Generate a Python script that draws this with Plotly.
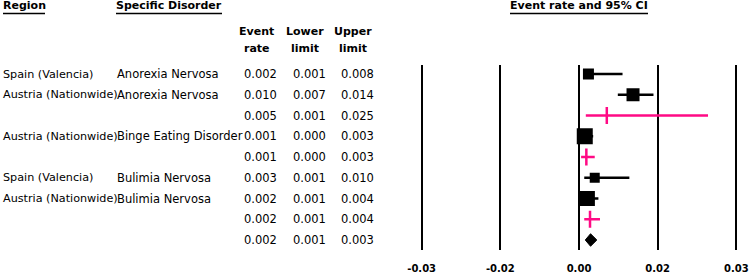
import plotly.graph_objects as go

# ---------------- data ----------------
regions = ["Spain (Valencia)", "Austria (Nationwide)", "", "Austria (Nationwide)", "",
           "Spain (Valencia)", "Austria (Nationwide)", "", ""]
disorders = ["Anorexia Nervosa", "Anorexia Nervosa", "", "Binge Eating Disorder", "",
             "Bulimia Nervosa", "Bulimia Nervosa", "", ""]
row_kind = ["study", "study", "subtotal", "study", "subtotal", "study", "study", "subtotal", "overall"]
event_rate = [0.0018, 0.0103, 0.0053, 0.0011, 0.0014, 0.0030, 0.0016, 0.0021, 0.0022]
lower_limit = [0.0010, 0.0074, 0.0013, 0.0003, 0.0004, 0.0010, 0.0008, 0.0010, 0.0012]
upper_limit = [0.0083, 0.0142, 0.0246, 0.0027, 0.0030, 0.0096, 0.0037, 0.0040, 0.0034]
rel_weight = [11, 13, 0, 16, 0, 10, 15, 0, 0]

tick_vals = [-0.03, -0.015, 0.0, 0.015, 0.03]
tick_text = ["-0.03", "-0.02", "0.00", "0.02", "0.03"]

# ---------------- style ----------------
W, H = 749, 274
PINK = "#FF0A85"
FONT = "DejaVu Sans"
BODY = 11.5

def px(xp):
    return xp / W

def py(yp):
    return 1 - yp / H

rows = list(range(len(event_rate)))
fig = go.Figure()

# CI lines
for i in rows:
    if row_kind[i] == "overall":
        continue
    col = PINK if row_kind[i] == "subtotal" else "black"
    fig.add_trace(go.Scatter(x=[lower_limit[i], upper_limit[i]], y=[i, i], mode="lines",
                             line=dict(color=col, width=2.5), hoverinfo="skip", showlegend=False))

# study squares
st = [i for i in rows if row_kind[i] == "study"]
fig.add_trace(go.Scatter(x=[event_rate[i] for i in st], y=st, mode="markers",
                         marker=dict(symbol="square", color="black", opacity=1,
                                     size=[rel_weight[i] for i in st],
                                     line=dict(width=0)),
                         showlegend=False))
# subtotal ticks
sb = [i for i in rows if row_kind[i] == "subtotal"]
fig.add_trace(go.Scatter(x=[event_rate[i] for i in sb], y=sb, mode="markers",
                         marker=dict(symbol="line-ns", size=12, opacity=1,
                                     line=dict(color=PINK, width=2.5)),
                         showlegend=False))
# overall diamond
for i in rows:
    if row_kind[i] == "overall":
        h = 0.3
        fig.add_trace(go.Scatter(x=[lower_limit[i], event_rate[i], upper_limit[i], event_rate[i], lower_limit[i]],
                                 y=[i, i - h, i, i + h, i], mode="lines", fill="toself",
                                 fillcolor="black", line=dict(color="black", width=1),
                                 hoverinfo="skip", showlegend=False))

ann = []
def add_text(x, y, text, xanchor="left", yref="paper", bold=False, size=BODY):
    ann.append(dict(x=x, y=y, xref="paper", yref=yref, text=text, showarrow=False,
                    xanchor=xanchor, yanchor="middle", borderpad=0,
                    font=dict(family=FONT, size=size, color="black",
                              weight="bold" if bold else "normal")))

# table body
for i in rows:
    if regions[i]:
        add_text(px(1.5), i, regions[i], yref="y", size=11.2)
    if disorders[i]:
        add_text(px(116), i, disorders[i], yref="y")
    add_text(px(260), i, f"{event_rate[i]:.3f}", xanchor="center", yref="y")
    add_text(px(309.5), i, f"{lower_limit[i]:.3f}", xanchor="center", yref="y")
    add_text(px(357), i, f"{upper_limit[i]:.3f}", xanchor="center", yref="y")

# headers
add_text(px(2), py(5.5), "Region", bold=True, size=11)
add_text(px(115), py(5.5), "Specific Disorder", bold=True, size=11)
add_text(px(579), py(5.5), "Event rate and 95% CI", xanchor="center", bold=True, size=11)
for cx, l1, l2 in [(256.7, "Event", "rate"), (304.5, "Lower", "limit"), (353, "Upper", "limit")]:
    add_text(px(cx), py(32), l1, xanchor="center", bold=True, size=11)
    add_text(px(cx), py(48), l2, xanchor="center", bold=True, size=11)

shapes = []
for x0, x1 in [(3, 45), (116, 222), (510, 648)]:
    shapes.append(dict(type="line", xref="paper", yref="paper", x0=px(x0), x1=px(x1),
                       y0=py(13.5), y1=py(13.5), line=dict(color="black", width=1.4)))

k = (736 - 421.3) / 0.06
xr = [-0.031, 0.031]
dom_x = [px(579 + xr[0] * k), px(579 + xr[1] * k)]
row0, step = 74, 20.75
yr = [(250 - row0) / step, (65 - row0) / step]

fig.update_layout(
    template="none",
    width=W, height=H, margin=dict(l=0, r=0, t=0, b=0, pad=0, autoexpand=False),
    paper_bgcolor="white", plot_bgcolor="white",
    annotations=ann, shapes=shapes, showlegend=False,
    xaxis=dict(domain=dom_x, range=xr, tickvals=tick_vals, automargin=False,
               ticktext=[f"<b>{t}</b>" for t in tick_text], ticklabelstandoff=11,
               showgrid=True, gridcolor="black", gridwidth=2, zeroline=False,
               showline=False, ticks="", tickfont=dict(family=FONT, size=10, color="black")),
    yaxis=dict(domain=[py(250), py(65)], range=yr, showgrid=False, zeroline=False, automargin=False,
               showline=False, showticklabels=False, ticks=""),
)

fig.write_html("out.html", config={"displayModeBar": False},
               post_script="document.body.style.margin='0';document.body.style.overflow='hidden';")
